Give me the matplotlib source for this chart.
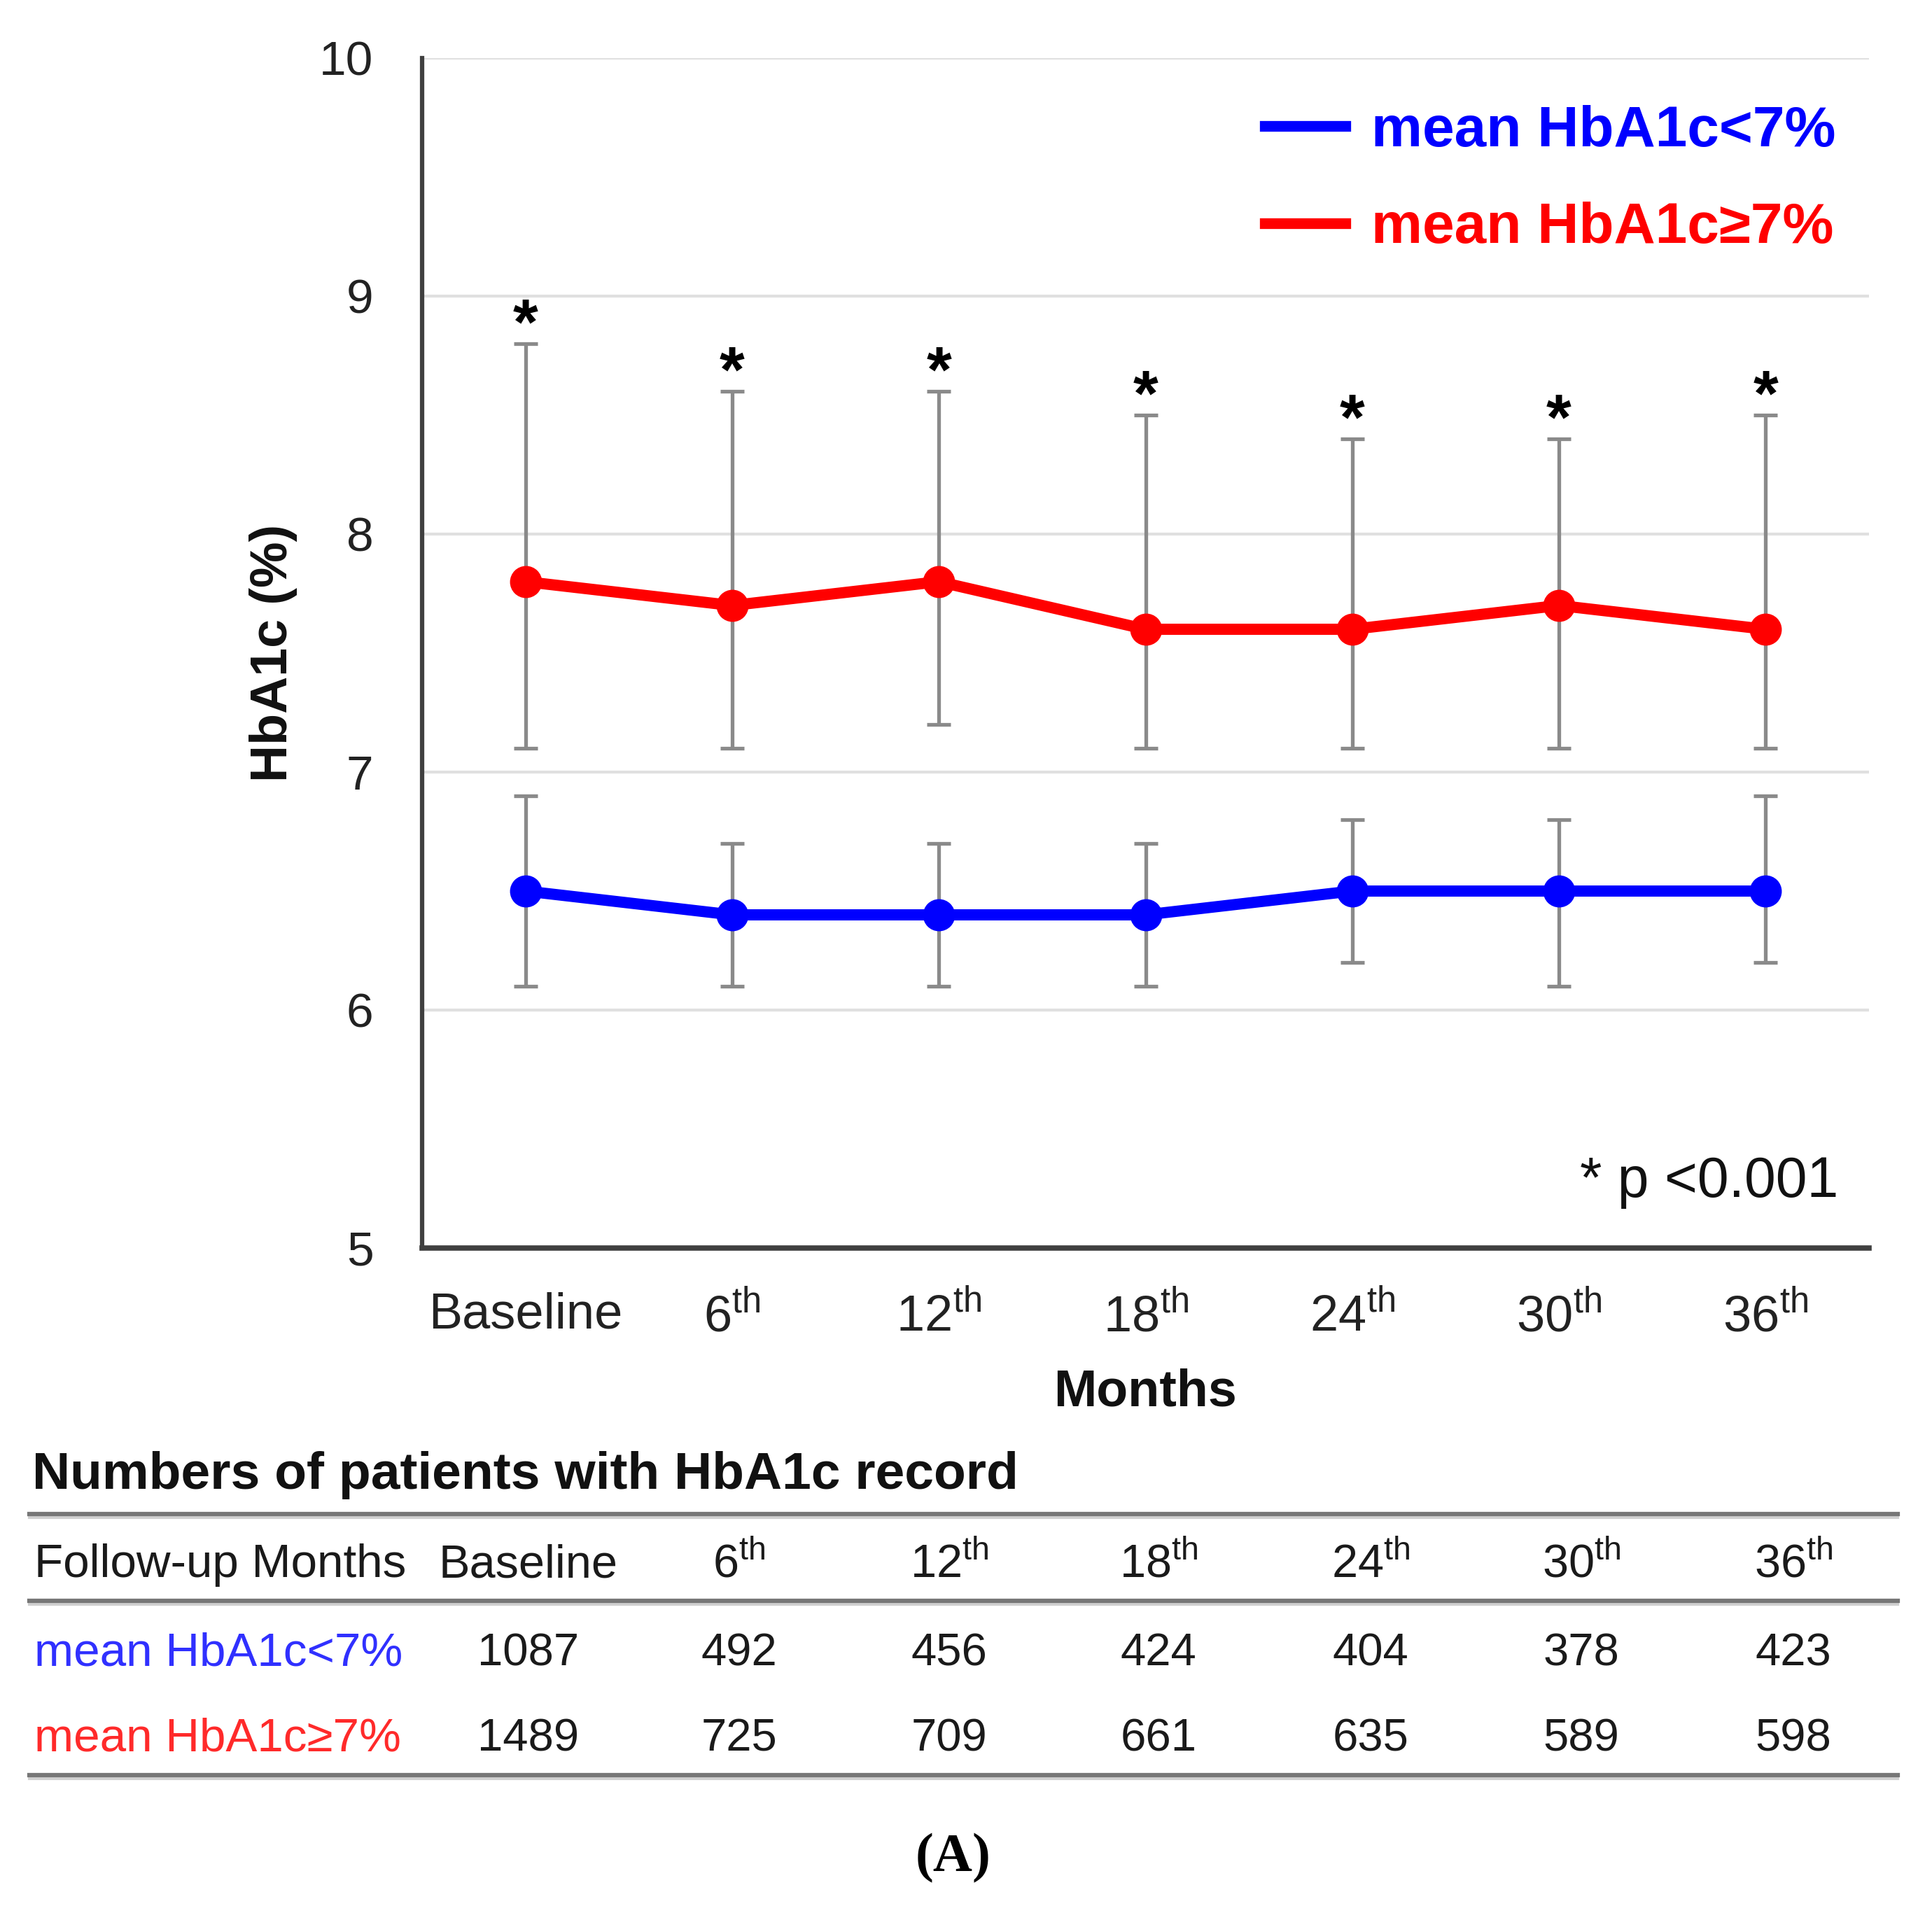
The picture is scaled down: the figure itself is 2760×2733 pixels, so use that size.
import numpy as np
import matplotlib
matplotlib.use('Agg')
import matplotlib.pyplot as plt
from matplotlib.lines import Line2D

plt.rcParams['font.family'] = ['Liberation Sans', 'DejaVu Sans']
plt.rcParams['mathtext.fontset'] = 'custom'
plt.rcParams['mathtext.rm'] = 'Liberation Sans'
plt.rcParams['mathtext.bf'] = 'Liberation Sans:bold'

# data
months = ['Baseline', '6$^{\\mathrm{th}}$', '12$^{\\mathrm{th}}$', '18$^{\\mathrm{th}}$',
          '24$^{\\mathrm{th}}$', '30$^{\\mathrm{th}}$', '36$^{\\mathrm{th}}$']
low_mean = [6.5, 6.4, 6.4, 6.4, 6.5, 6.5, 6.5]
low_upper = [6.9, 6.7, 6.7, 6.7, 6.8, 6.8, 6.9]
low_lower = [6.1, 6.1, 6.1, 6.1, 6.2, 6.1, 6.2]
high_mean = [7.8, 7.7, 7.8, 7.6, 7.6, 7.7, 7.6]
high_upper = [8.8, 8.6, 8.6, 8.5, 8.4, 8.4, 8.5]
high_lower = [7.1, 7.1, 7.2, 7.1, 7.1, 7.1, 7.1]
n_low = [1087, 492, 456, 424, 404, 378, 423]
n_high = [1489, 725, 709, 661, 635, 589, 598]
label_low = 'mean HbA1c<7%'
label_high = 'mean HbA1c\u22657%'

W, H = 2760, 2733
fig = plt.figure(figsize=(W / 100, H / 100), dpi=100)
ax = fig.add_axes([603 / W, 1 - 1783 / H, 2067 / W, 1700 / H])

x = np.arange(len(months)) + 0.5
ecol = '#8a8a8a'

for mean, up, lo, col, lab in [(low_mean, low_upper, low_lower, 'blue', label_low),
                               (high_mean, high_upper, high_lower, 'red', label_high)]:
    mean = np.array(mean)
    yerr = [mean - np.array(lo), np.array(up) - mean]
    ax.errorbar(x, mean, yerr=yerr, fmt='none', ecolor=ecol, elinewidth=3.8,
                capsize=12, capthick=3.8, zorder=2)
    ax.plot(x, mean, color=col, lw=11.5, marker='o', ms=32, zorder=3, label=lab)

# significance stars
for xi, up in zip(x, high_upper):
    ax.text(xi, up, '*', ha='center', va='baseline', fontsize=66,
            fontweight='bold', color='black')

ax.set_xlim(0, 7)
ax.set_ylim(5, 10)
ax.set_yticks([5, 6, 7, 8, 9, 10])
ax.set_xticks(x)
ax.set_xticklabels(months)
ax.tick_params(axis='both', length=0, labelsize=52, colors='#222222')
ax.tick_params(axis='y', pad=50, labelsize=50)
ax.tick_params(axis='x', pad=45)
ax.grid(axis='y', color='#e0e0e0', lw=3)
ax.set_axisbelow(True)
for s in ['top', 'right']:
    ax.spines[s].set_visible(False)
ax.spines['left'].set_color('#404040')
ax.spines['left'].set_linewidth(4.5)
ax.spines['bottom'].set_color('#404040')
ax.spines['bottom'].set_linewidth(5.5)

ax.set_ylabel('HbA1c (%)', fontsize=53, fontweight='bold', color='#111111')
ax.yaxis.set_label_coords(-0.1026, 0.5)
ax.yaxis.label.set_va('center')
ax.set_xlabel('Months', fontsize=53, fontweight='bold', color='#111111')
ax.xaxis.set_label_coords(0.5, -0.121)
ax.xaxis.label.set_va('center')

ax.text(0.9787, 0.0553, '* p <0.001', transform=ax.transAxes, ha='right',
        va='center', fontsize=58, color='#111111')

leg = ax.legend(loc='upper right', bbox_to_anchor=(0.977, 0.9606), frameon=False,
                prop={'size': 59, 'weight': 'bold'}, labelcolor='linecolor',
                handlelength=1.4, handletextpad=0.45, labelspacing=0.76,
                borderpad=0, borderaxespad=0)
for h in leg.legend_handles:
    h.set_marker('')
    h.set_linewidth(11)

# table under the chart
def fy(py):
    return 1 - py / H


col_x = [755, 1056, 1356, 1655, 1958, 2259, 2562]
fig.text(46 / W, fy(2107), 'Numbers of patients with HbA1c record', fontsize=54,
         fontweight='bold', va='center', ha='left', color='#111111')
for py in [2163, 2287, 2536]:
    fig.add_artist(Line2D([42 / W, 2711 / W], [fy(py + 5), fy(py + 5)],
                          transform=fig.transFigure, color='#d0d0d0', lw=3))
    fig.add_artist(Line2D([42 / W, 2711 / W], [fy(py), fy(py)],
                          transform=fig.transFigure, color='#777777', lw=4.5))

tsize = 47
rows_y = [2236, 2362, 2484]
fig.text(49 / W, fy(rows_y[0]), 'Follow-up Months', fontsize=48.5, va='center',
         ha='left', color='#1a1a1a')
fig.text(49 / W, fy(rows_y[1]), label_low, fontsize=48.5, va='center', ha='left',
         color='#3030ff')
fig.text(49 / W, fy(rows_y[2]), label_high, fontsize=48.5, va='center', ha='left',
         color='#ff2a2a')
for cx, m, a, b in zip(col_x, months, n_low, n_high):
    fig.text(cx / W, fy(rows_y[0]), m, fontsize=tsize + 1, va='center', ha='center',
             color='#1a1a1a')
    fig.text(cx / W, fy(rows_y[1]), str(a), fontsize=tsize, va='center', ha='center',
             color='#1a1a1a')
    fig.text(cx / W, fy(rows_y[2]), str(b), fontsize=tsize, va='center', ha='center',
             color='#1a1a1a')

fig.text(1362 / W, fy(2655), '(A)', fontsize=56, fontweight='bold', va='center',
         ha='center', family=['Liberation Serif', 'DejaVu Serif'])

fig.savefig('out.png', dpi=100, facecolor='white')
